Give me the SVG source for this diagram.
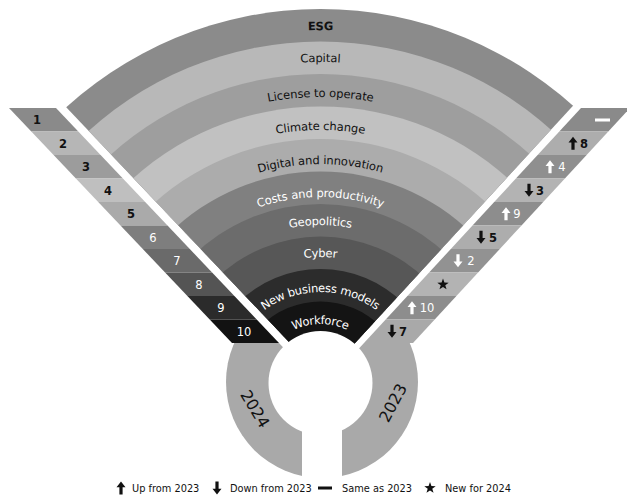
<svg xmlns="http://www.w3.org/2000/svg" xmlns:xlink="http://www.w3.org/1999/xlink" width="627" height="500" viewBox="0 0 627 500">
<style>
.lbl{font-family:"DejaVu Sans",sans-serif;font-size:11.5px;text-anchor:middle;dominant-baseline:central}
.num{font-family:"DejaVu Sans",sans-serif;font-size:11.5px;text-anchor:middle}
.bd{font-weight:bold}
.dk{fill:#111}
.wt{fill:#fff}
.leg{font-family:"DejaVu Sans",sans-serif;font-size:9.8px;fill:#111}
.yr{font-family:"DejaVu Sans",sans-serif;font-size:16px;fill:#111;text-anchor:middle;dominant-baseline:central}
</style>
<defs>
<clipPath id="wedge"><polygon points="-92.4,-60 725.4,-60 323,377.8"/></clipPath>
<clipPath id="donutclip"><polygon points="150,343 279,343 309.4,375 334.5,375 364,343 500,343 500,500 150,500"/></clipPath>
<path id="up" d="M0,-6.5 L4.5,-0.8 L1.6,-0.8 L1.6,6.5 L-1.6,6.5 L-1.6,-0.8 L-4.5,-0.8 Z"/>
<path id="down" d="M0,6.5 L4.5,0.8 L1.6,0.8 L1.6,-6.5 L-1.6,-6.5 L-1.6,0.8 L-4.5,0.8 Z"/>
<polygon id="star" points="0,-6 1.41,-1.94 5.71,-1.85 2.28,0.74 3.53,4.85 0,2.4 -3.53,4.85 -2.28,0.74 -5.71,-1.85 -1.41,-1.94"/>
<path id="a1" d="M -40.5,387 A 361 361 0 0 1 681.5,387"/>
<path id="a2" d="M -8.5,387 A 329 329 0 0 1 649.5,387"/>
<path id="a3" d="M 26.5,387 A 294 294 0 0 1 614.5,387"/>
<path id="a4" d="M 59.5,387 A 261 261 0 0 1 581.5,387"/>
<path id="a5" d="M 93.5,387 A 227 227 0 0 1 547.5,387"/>
<path id="a6" d="M 126.5,387 A 194 194 0 0 1 514.5,387"/>
<path id="a7" d="M 154.5,387 A 166 166 0 0 1 486.5,387"/>
<path id="a8" d="M 186.5,387 A 134 134 0 0 1 454.5,387"/>
<path id="a9" d="M 221.5,387 A 99 99 0 0 1 419.5,387"/>
<path id="a10" d="M 253.5,387 A 67 67 0 0 1 387.5,387"/>
</defs>

<!-- year ring -->
<g id="year-ring">
<circle cx="322" cy="382" r="96" fill="#a9a9a9" clip-path="url(#donutclip)"/>
</g>

<!-- fan of topics -->
<g id="fan" clip-path="url(#wedge)">
<g id="band-esg"><circle cx="320.5" cy="387" r="378" fill="#8b8b8b"/><text class="lbl dk bd"><textPath href="#a1" startOffset="50%">ESG</textPath></text></g>
<g id="band-capital"><circle cx="320.5" cy="387" r="345.5" fill="#b8b8b8"/><text class="lbl dk"><textPath href="#a2" startOffset="50%">Capital</textPath></text></g>
<g id="band-license"><circle cx="320.5" cy="387" r="313" fill="#9e9e9e"/><text class="lbl dk"><textPath href="#a3" startOffset="50%">License to operate</textPath></text></g>
<g id="band-climate"><circle cx="320.5" cy="387" r="280.5" fill="#c1c1c1"/><text class="lbl dk"><textPath href="#a4" startOffset="50%">Climate change</textPath></text></g>
<g id="band-digital"><circle cx="320.5" cy="387" r="248" fill="#acacac"/><text class="lbl dk"><textPath href="#a5" startOffset="50%">Digital and innovation</textPath></text></g>
<g id="band-costs"><circle cx="320.5" cy="387" r="215.5" fill="#808080"/><text class="lbl wt"><textPath href="#a6" startOffset="50%">Costs and productivity</textPath></text></g>
<g id="band-geopolitics"><circle cx="320.5" cy="387" r="183" fill="#6c6c6c"/><text class="lbl wt"><textPath href="#a7" startOffset="50%">Geopolitics</textPath></text></g>
<g id="band-cyber"><circle cx="320.5" cy="387" r="150.5" fill="#575757"/><text class="lbl wt"><textPath href="#a8" startOffset="50%">Cyber</textPath></text></g>
<g id="band-nbm"><circle cx="320.5" cy="387" r="118" fill="#2c2c2c"/><text class="lbl wt"><textPath href="#a9" startOffset="50%">New business models</textPath></text></g>
<g id="band-workforce"><circle cx="320.5" cy="387" r="85.5" fill="#141414"/><text class="lbl wt"><textPath href="#a10" startOffset="50%">Workforce</textPath></text></g>
</g>

<!-- hole and slot -->
<g id="hole">
<circle cx="320.5" cy="383" r="52" fill="#fff"/>
<rect x="302" y="383" width="40" height="110" fill="#fff"/>
</g>

<g id="year-labels">
<text class="yr" transform="translate(255,409) rotate(59)">2024</text>
<text class="yr" transform="translate(393,403) rotate(-62)">2023</text>
</g>

<!-- 2024 ranking strip -->
<g id="strip-2024">
<g id="r2024-1"><polygon points="9,108 56,108 78.3,131.5 31.3,131.5" fill="#8a8a8a"/><text class="num dk bd" x="37" y="124">1</text></g>
<g id="r2024-2"><polygon points="31.3,131.5 78.3,131.5 100.6,155 53.6,155" fill="#b6b6b6"/><text class="num dk bd" x="63" y="147.5">2</text></g>
<g id="r2024-3"><polygon points="53.6,155 100.6,155 122.9,178.5 75.9,178.5" fill="#9c9c9c"/><text class="num dk bd" x="86" y="171">3</text></g>
<g id="r2024-4"><polygon points="75.9,178.5 122.9,178.5 145.2,202 98.2,202" fill="#bfbfbf"/><text class="num dk bd" x="108" y="194.5">4</text></g>
<g id="r2024-5"><polygon points="98.2,202 145.2,202 167.5,225.5 120.5,225.5" fill="#aaaaaa"/><text class="num dk bd" x="131" y="218">5</text></g>
<g id="r2024-6"><polygon points="120.5,225.5 167.5,225.5 189.8,249 142.8,249" fill="#7e7e7e"/><text class="num wt" x="153" y="241.5">6</text></g>
<g id="r2024-7"><polygon points="142.8,249 189.8,249 212.1,272.5 165.1,272.5" fill="#6a6a6a"/><text class="num wt" x="177" y="265">7</text></g>
<g id="r2024-8"><polygon points="165.1,272.5 212.1,272.5 234.4,296 187.4,296" fill="#545454"/><text class="num wt" x="199" y="288.5">8</text></g>
<g id="r2024-9"><polygon points="187.4,296 234.4,296 256.7,319.5 209.7,319.5" fill="#2b2b2b"/><text class="num wt" x="221" y="312">9</text></g>
<g id="r2024-10"><polygon points="209.7,319.5 256.7,319.5 279,343 232,343" fill="#121212"/><text class="num wt" x="244" y="335.5">10</text></g>
</g>

<!-- 2023 change strip -->
<g id="strip-2023">
<g id="r2023-1"><polygon points="581,108 630,108 608.3,131.5 559.3,131.5" fill="#8a8a8a"/><rect x="595" y="118.5" width="15" height="3" fill="#fff"/></g>
<g id="r2023-2"><polygon points="559.3,131.5 608.3,131.5 586.6,155 537.6,155" fill="#adadad"/><use href="#up" x="573" y="143.25" fill="#111"/><text class="num dk bd" x="584" y="147.5">8</text></g>
<g id="r2023-3"><polygon points="537.6,155 586.6,155 564.9,178.5 515.9,178.5" fill="#8f8f8f"/><use href="#up" x="550" y="166.75" fill="#fff"/><text class="num wt" x="562" y="171">4</text></g>
<g id="r2023-4"><polygon points="515.9,178.5 564.9,178.5 543.2,202 494.2,202" fill="#b3b3b3"/><use href="#down" x="529" y="190.25" fill="#111"/><text class="num dk bd" x="540" y="194.5">3</text></g>
<g id="r2023-5"><polygon points="494.2,202 543.2,202 521.5,225.5 472.5,225.5" fill="#8d8d8d"/><use href="#up" x="506" y="213.75" fill="#fff"/><text class="num wt" x="517" y="218">9</text></g>
<g id="r2023-6"><polygon points="472.5,225.5 521.5,225.5 499.8,249 450.8,249" fill="#adadad"/><use href="#down" x="481" y="237.25" fill="#111"/><text class="num dk bd" x="493" y="241.5">5</text></g>
<g id="r2023-7"><polygon points="450.8,249 499.8,249 478.1,272.5 429.1,272.5" fill="#929292"/><use href="#down" x="458" y="260.75" fill="#fff"/><text class="num wt" x="471" y="265">2</text></g>
<g id="r2023-8"><polygon points="429.1,272.5 478.1,272.5 456.4,296 407.4,296" fill="#b3b3b3"/><use href="#star" x="443" y="284.5" fill="#111"/></g>
<g id="r2023-9"><polygon points="407.4,296 456.4,296 434.7,319.5 385.7,319.5" fill="#8d8d8d"/><use href="#up" x="412" y="307.75" fill="#fff"/><text class="num wt" x="427" y="312">10</text></g>
<g id="r2023-10"><polygon points="385.7,319.5 434.7,319.5 413,343 364,343" fill="#a9a9a9"/><use href="#down" x="392" y="331.25" fill="#111"/><text class="num dk bd" x="403" y="335.5">7</text></g>
</g>

<!-- legend -->
<g id="legend">
<use href="#up" x="121" y="488" fill="#111"/><text class="leg" x="132" y="491.5">Up from 2023</text>
<use href="#down" x="217" y="488" fill="#111"/><text class="leg" x="230" y="491.5">Down from 2023</text>
<rect x="318" y="486.5" width="14" height="3" fill="#111"/><text class="leg" x="342" y="491.5">Same as 2023</text>
<use href="#star" x="430" y="488" fill="#111"/><text class="leg" x="445" y="491.5">New for 2024</text>
</g>
</svg>
